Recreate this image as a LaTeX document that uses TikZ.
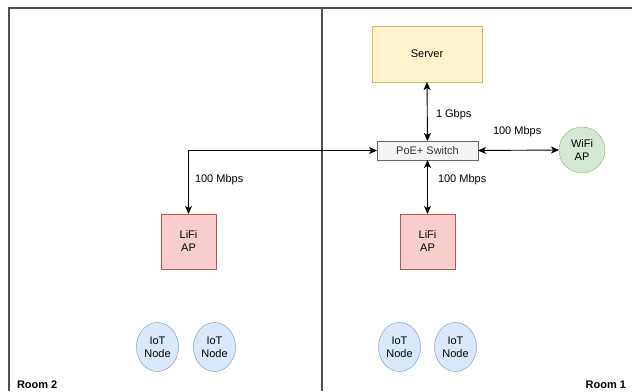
\documentclass[tikz,border=0pt]{standalone}
\usepackage{fontspec}
\setmainfont{Liberation Sans}
\usetikzlibrary{arrows.meta,shapes.geometric}
\definecolor{srvfill}{HTML}{FFF2CC}\definecolor{srvline}{HTML}{D6B656}
\definecolor{swfill}{HTML}{F5F5F5}\definecolor{swline}{HTML}{666666}\definecolor{swtext}{HTML}{333333}
\definecolor{wififill}{HTML}{D5E8D4}\definecolor{wifiline}{HTML}{82B366}
\definecolor{lififill}{HTML}{F8CECC}\definecolor{lifiline}{HTML}{B85450}
\definecolor{iotfill}{HTML}{DAE8FC}\definecolor{iotline}{HTML}{6C8EBF}
\definecolor{wall}{HTML}{4D4D4D}
\begin{document}
\begin{tikzpicture}[x=1pt,y=-1pt,
  font=\fontsize{11}{13}\selectfont,
  every node/.style={inner sep=0pt, outer sep=0pt, align=center},
  server/.style={draw=srvline, fill=srvfill, minimum width=110pt, minimum height=56pt},
  switchbox/.style={draw=swline, fill=swfill, text=swtext, minimum width=101pt, minimum height=19pt},
  wifi/.style={draw=wifiline, fill=wififill, circle, minimum size=46pt},
  lifi/.style={draw=lifiline, fill=lififill, minimum width=55pt, minimum height=55pt},
  iot/.style={draw=iotline, fill=iotfill, ellipse, minimum width=42pt, minimum height=49pt},
  link/.style={line width=0.9pt, {Stealth[length=8pt,width=7pt,inset=2pt]}-{Stealth[length=8pt,width=7pt,inset=2pt]}},
  lbl/.style={anchor=west},
  wallline/.style={draw=wall, line width=1.3pt}]
\useasboundingbox (0,0) rectangle (632,391);
% walls
\draw[wallline] (9,391) -- (9,8) -- (632,8);
\draw[wallline] (322,8) -- (322,391);
% nodes
\node[server] (srv) at (427,54) {Server};
\node[switchbox] (sw) at (427.5,150.5) {PoE+ Switch};
\node[wifi] (wifi) at (582,150) {WiFi\\AP};
\node[lifi] (lifi1) at (427.5,241.5) {LiFi\\AP};
\node[lifi] (lifi2) at (188.5,241.5) {LiFi\\AP};
\node[iot] (iot1) at (157.5,347) {IoT\\Node};
\node[iot] (iot2) at (214.5,347) {IoT\\Node};
\node[iot] (iot3) at (399.5,347) {IoT\\Node};
\node[iot] (iot4) at (455.5,347) {IoT\\Node};
\node[anchor=base west, font=\fontsize{11}{13}\selectfont\bfseries] (room2) at (17,388) {Room 2};
\node[anchor=base east, font=\fontsize{11}{13}\selectfont\bfseries] (room1) at (626,388) {Room 1};
% links
\draw[link] (srv.south) -- (sw.north);
\draw[link] (sw.east) -- (wifi.west);
\draw[link] (sw.south) -- (lifi1.north);
\coordinate (corner) at (lifi2.north |- sw.west);
\draw[link] (lifi2.north) -- (corner) -- (sw.west);
% labels
\node[lbl] (l1) at (436,115) {1 Gbps};
\node[lbl] (l2) at (493,132) {100 Mbps};
\node[lbl] (l3) at (438,180) {100 Mbps};
\node[lbl] (l4) at (195,180) {100 Mbps};
\end{tikzpicture}
\end{document}
